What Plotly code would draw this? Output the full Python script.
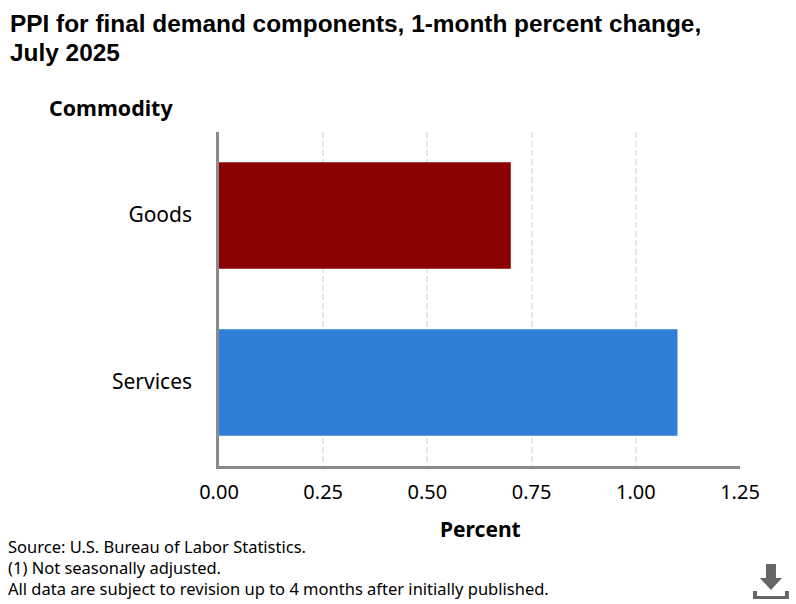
import plotly.graph_objects as go

categories = ["Goods", "Services"]
values = [0.7, 1.1]
colors = ["#8b0000", "#2f7ed8"]
tick_vals = [0, 0.25, 0.5, 0.75, 1.0, 1.25]
tick_labels = ["0.00", "0.25", "0.50", "0.75", "1.00", "1.25"]
title_lines = ["<b>PPI for final demand components, 1-month percent change,</b>", "<b>July 2025</b>"]
footnotes = ["Source: U.S. Bureau of Labor Statistics.",
             "(1) Not seasonally adjusted.",
             "All data are subject to revision up to 4 months after initially published."]

W, H = 796, 604
L, R, T, B = 218.5, 740, 132, 466
FONT = "Noto Sans"


def px(x):
    return (x - L) / (R - L)


def py(y):
    return (B - y) / (B - T)


fig = go.Figure(go.Bar(
    x=values, y=categories, orientation="h",
    marker=dict(color=colors, line=dict(width=0)),
    width=0.637, showlegend=False, hoverinfo="x+y",
))

annotations = []
for text, yy in zip(title_lines, [24, 52]):
    annotations.append(dict(text=text, x=px(7), y=py(yy), xref="paper", yref="paper", xanchor="left",
                            yanchor="middle", align="left", showarrow=False,
                            font=dict(family="Liberation Sans", size=24.4, color="#000000")))
annotations += [
    dict(text="<b>Commodity</b>", x=px(46), y=py(107.5), xref="paper", yref="paper", xanchor="left",
         yanchor="middle", showarrow=False, font=dict(family=FONT, size=21.4, color="#000000")),
    dict(text="<b>Percent</b>", x=px(480), y=py(529), xref="paper", yref="paper", xanchor="center",
         yanchor="middle", showarrow=False, font=dict(family=FONT, size=21, color="#000000")),
]
for text, yy in zip(footnotes, [546.5, 567.5, 588.5]):
    annotations.append(dict(text=text, x=px(6), y=py(yy), xref="paper", yref="paper", xanchor="left",
                            yanchor="middle", showarrow=False, borderpad=0,
                            font=dict(family=FONT, size=16.5, color="#000000")))

arrow = "M 766 564 L 776 564 L 776 578 L 782 578 L 771 590 L 760 578 L 766 578 Z"
tray = "M 753 591 L 753 599 L 789 599 L 789 591 L 785 591 L 785 596 L 757 596 L 757 591 Z"


def to_paper(path):
    out = []
    toks = path.split()
    i = 0
    while i < len(toks):
        if toks[i] in "MLZ":
            out.append(toks[i])
            i += 1
        else:
            out.append(f"{px(float(toks[i])):.5f},{py(float(toks[i + 1])):.5f}")
            i += 2
    return " ".join(out)


shapes = [dict(type="path", xref="paper", yref="paper", path=to_paper(p),
               fillcolor="#666666", line=dict(width=0)) for p in (arrow, tray)]

fig.update_layout(
    width=W, height=H, autosize=False,
    margin=dict(l=L, r=W - R, t=T, b=H - B, pad=0),
    paper_bgcolor="#ffffff", plot_bgcolor="#ffffff",
    annotations=annotations,
    shapes=shapes,
    xaxis=dict(range=[0, 1.25], tickmode="array", tickvals=tick_vals, ticktext=tick_labels,
               showgrid=True, gridcolor="#e6e6e6", griddash="6px,3px", gridwidth=1.5,
               showline=True, linecolor="#8a8a8a", linewidth=2.5, ticks="outside", ticklen=6,
               tickcolor="rgba(0,0,0,0)",
               tickfont=dict(family=FONT, size=20, color="#000000"), zeroline=False, automargin=False),
    yaxis=dict(autorange="reversed", showgrid=False, showline=True, linecolor="#8a8a8a", linewidth=2.5,
               ticks="outside", ticklen=20, tickcolor="rgba(0,0,0,0)", zeroline=False, ticklabelshift=1,
               tickfont=dict(family=FONT, size=21, color="#000000"), automargin=False),
)

fig.write_html("out.html", config=dict(displayModeBar=False),
               post_script="document.body.style.margin='0';")
